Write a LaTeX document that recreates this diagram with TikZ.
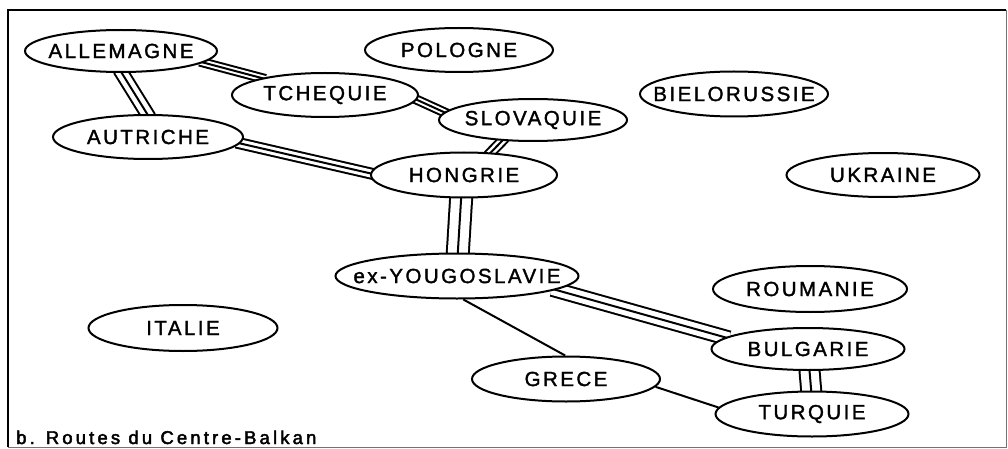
\documentclass[tikz,border=0pt]{standalone}
\usepackage{fontspec}
\setmainfont{Liberation Sans}[LetterSpace=12, FakeBold=1.6]
\usetikzlibrary{shapes.geometric,backgrounds,calc}
\newcommand\cz[1]{\makebox[0pt]{#1}}
\newcommand\tripleline[3]{\draw[triple=#1] ($(#2)!-4pt!(#3)$) -- ($(#3)!-4pt!(#2)$);}
\begin{document}
\begin{tikzpicture}[x=1pt,y=-1pt,
  country/.style={ellipse, draw, line width=2pt, fill=white, minimum width=190pt,
    minimum height=44pt, inner sep=0pt, font=\fontsize{20.5}{24}\selectfont},
  triple/.style={line width=2*#1+2pt,
    postaction={draw=white, line width=2*#1-2pt},
    postaction={draw=black, line width=2pt}},
  single/.style={line width=2pt}]
\useasboundingbox (0,0) rectangle (1008,449);
% frame
\draw[line width=2.2pt] (8,447) -- (8,10) -- (1006,10);
\draw[line width=1pt, black!55] (8,447) -- (1006,447) -- (1006,10);
% countries
\node[country, minimum width=192pt, minimum height=42pt] (ALL) at (121,51) {\cz{ALLEMAGNE}};
\node[country, minimum width=188pt] (POL) at (459,50) {\cz{POLOGNE}};
\node[country, minimum width=186pt] (TCH) at (325,95) {\cz{TCHEQUIE}};
\node[country, minimum width=188pt, minimum height=42pt] (SLO) at (533,120) {\cz{SLOVAQUIE}};
\node[country, minimum width=188pt, minimum height=45pt] (BIE) at (734,94) {\cz{BIELORUSSIE}};
\node[country] (AUT) at (148,137) {\cz{AUTRICHE}};
\node[country, minimum width=186pt, minimum height=45pt] (HON) at (464,175) {\cz{HONGRIE}};
\node[country, minimum width=193pt] (UKR) at (883,175) {\cz{UKRAINE}};
\node[country, minimum width=243pt, minimum height=45pt] (YOU) at (457,276) {\cz{ex-YOUGOSLAVIE}};
\node[country, minimum width=189pt, minimum height=46pt] (ITA) at (183,328) {\cz{ITALIE}};
\node[country, minimum width=194pt, minimum height=46pt] (ROU) at (810,289) {\cz{ROUMANIE}};
\node[country, minimum width=193pt, minimum height=42pt] (BUL) at (808,349) {\cz{BULGARIE}};
\node[country, minimum width=188pt, minimum height=45pt] (GRE) at (566,379) {\cz{GRECE}};
\node[country, minimum width=193pt, minimum height=45pt] (TUR) at (812,414) {\cz{TURQUIE}};
% caption
\node[anchor=base west, inner sep=0pt, font=\fontsize{18.5}{21}\selectfont\addfontfeature{LetterSpace=17, FakeBold=2.4}] (cap) at (16,444) {b. Routes du Centre-Balkan};
% routes
\begin{pgfonlayer}{background}
\tripleline{4pt}{ALL.-8}{TCH.165}
\tripleline{6.5pt}{ALL.-88}{AUT.92}
\tripleline{4pt}{TCH.-3.5}{SLO.175}
\tripleline{5pt}{AUT.-4}{HON.179}
\tripleline{4.5pt}{SLO.-146}{HON.40}
\tripleline{11pt}{HON.-97}{YOU.88}
\tripleline{7pt}{YOU.-8}{BUL.172}
\tripleline{10pt}{BUL.-86}{TUR.92}
\draw[single] (YOU.-75) -- (GRE.92);
\draw[single] (GRE.-5) -- (TUR.176);
\end{pgfonlayer}
\end{tikzpicture}
\end{document}
